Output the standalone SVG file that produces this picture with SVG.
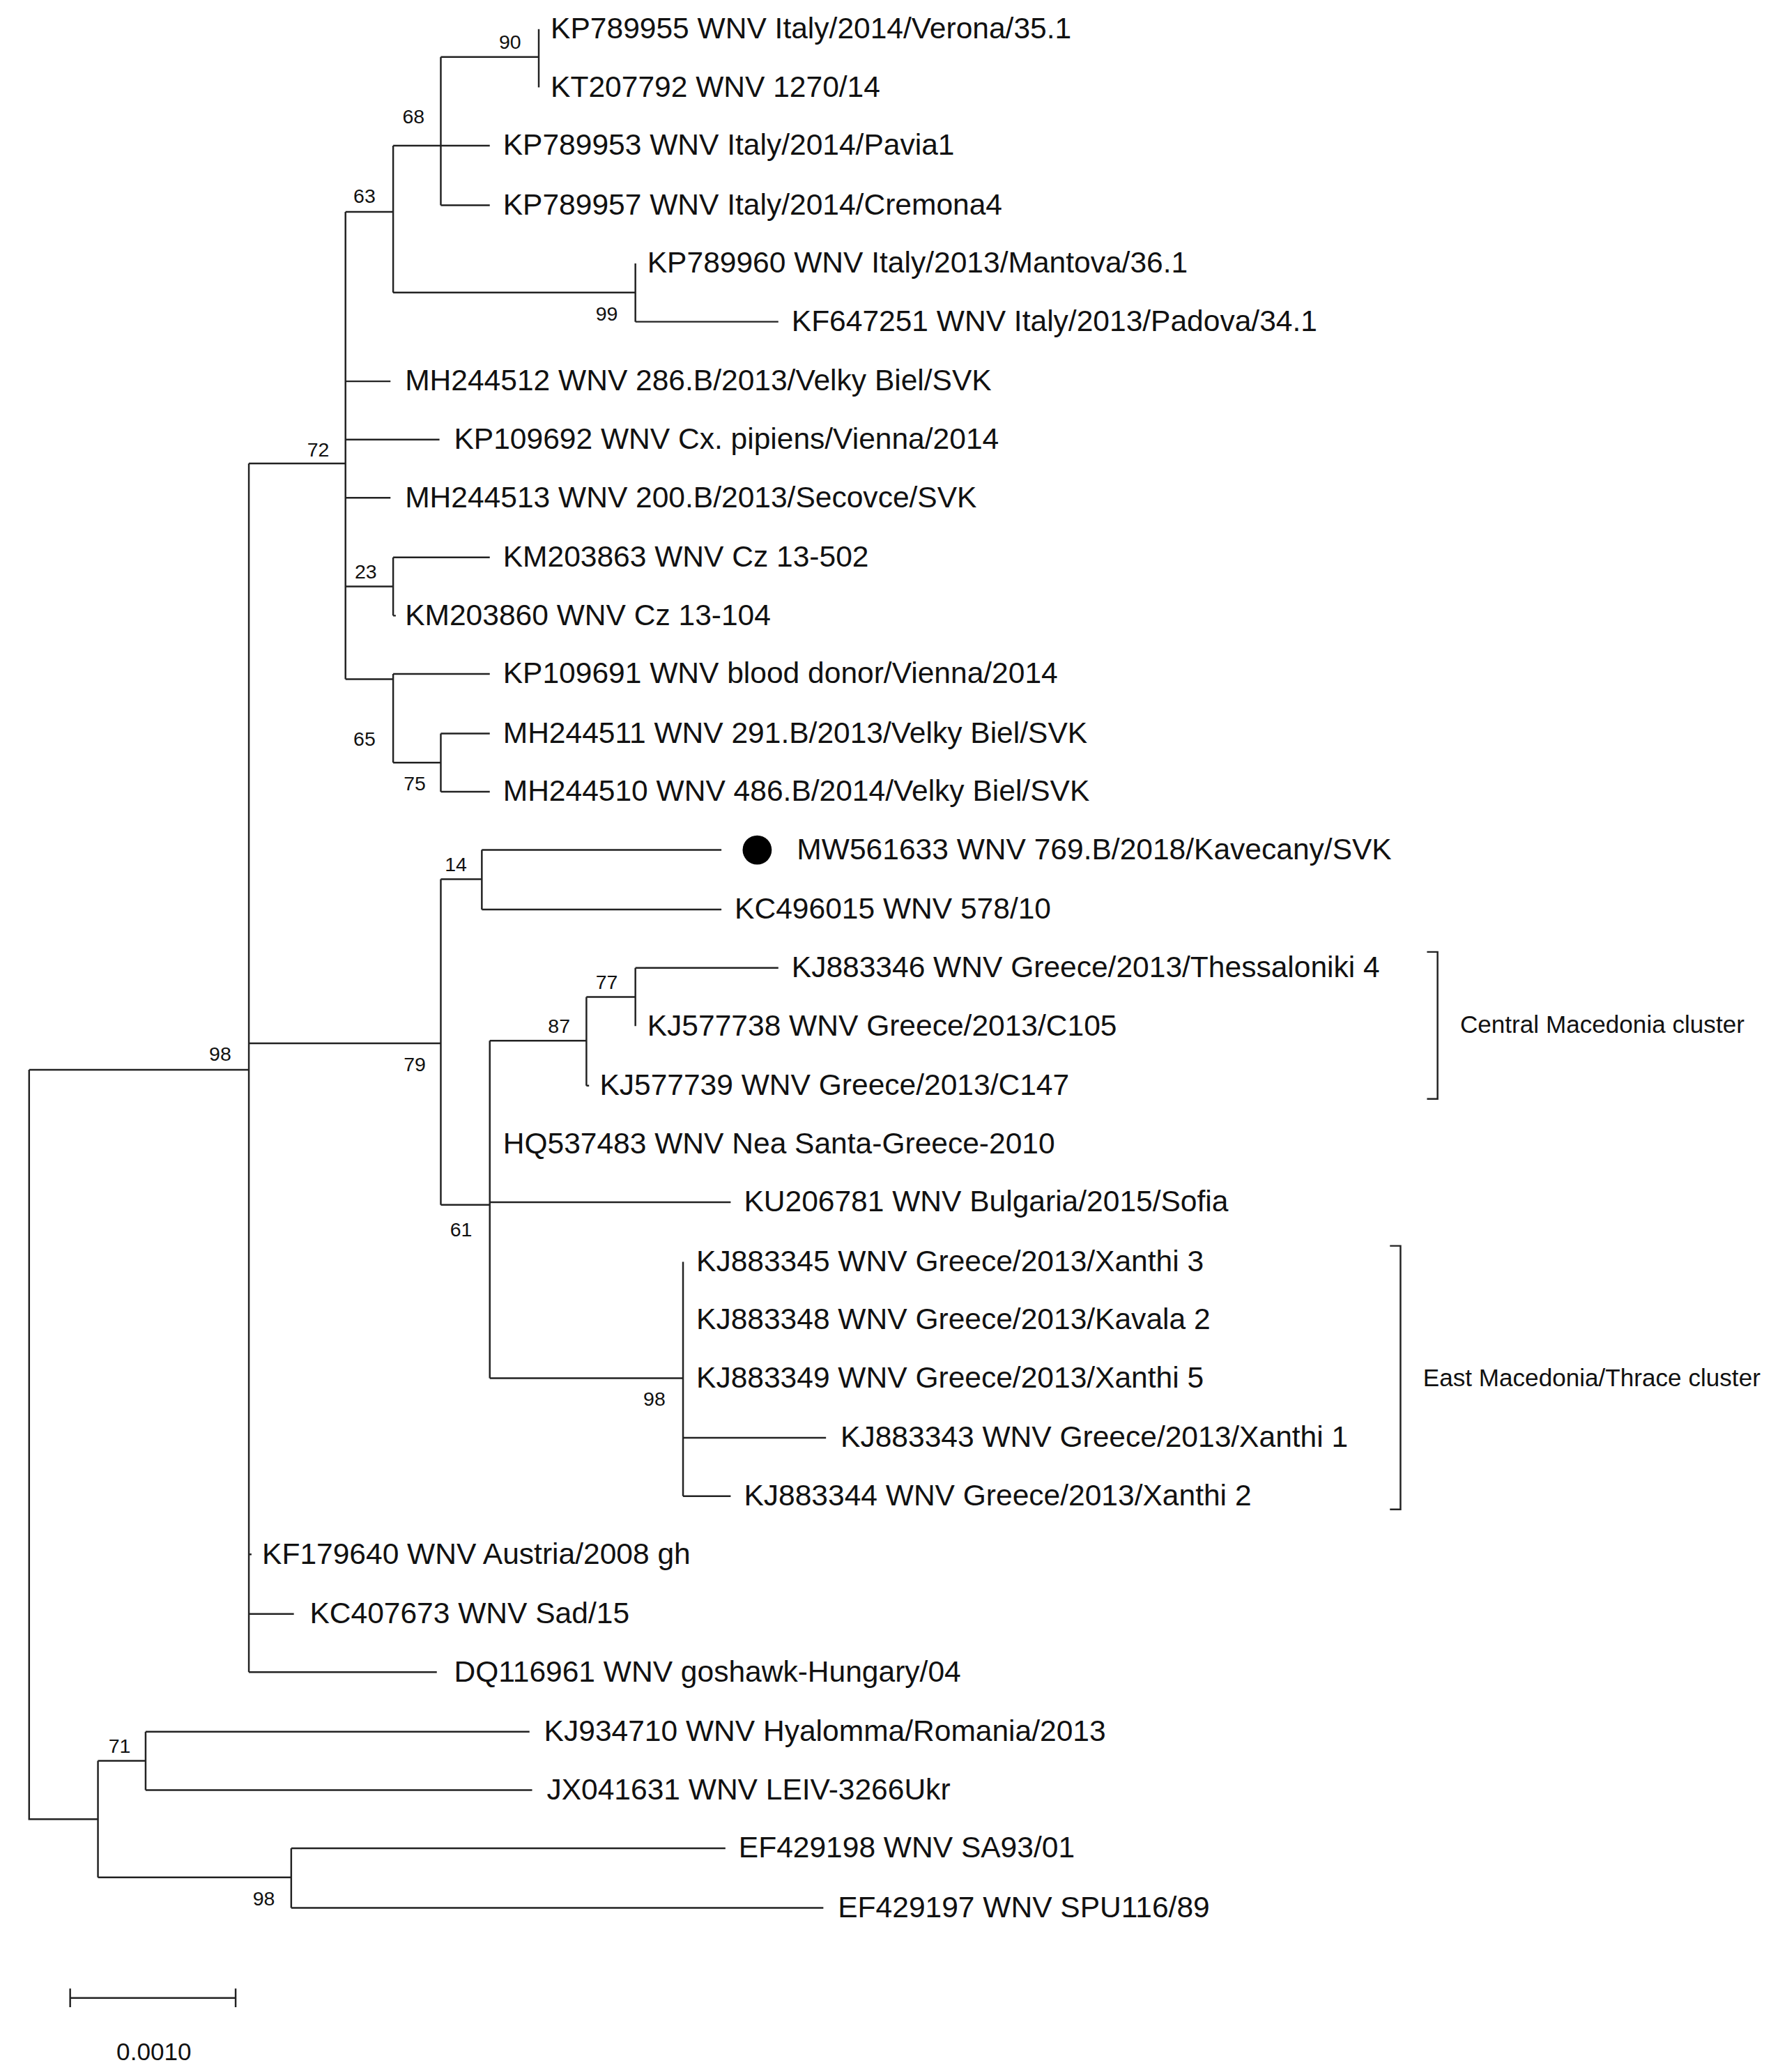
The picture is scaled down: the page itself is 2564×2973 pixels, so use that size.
<svg xmlns="http://www.w3.org/2000/svg" width="2564" height="2973" viewBox="0 0 2564 2973">
<style>
.l{font-family:"Liberation Sans",Arial,sans-serif;font-size:22.4px;fill:#111}
.b{font-family:"Liberation Sans",Arial,sans-serif;font-size:15px;fill:#111}
.c{font-family:"Liberation Sans",Arial,sans-serif;font-size:18.5px;fill:#111}
path{fill:none;stroke:#222;stroke-width:1.3}
</style>
<rect width="2564" height="2973" fill="#fff"/>
<g transform="scale(1.8993,1.8997)">
<g id="connectors">
<path d="M22,808V1374H74M22,808H188"/>
<path d="M188,350V1263M188,350H261M188,788H333M188,1174H190M188,1219H222M188,1263H330"/>
<path d="M261,160V513M261,160H297M261,288H295M261,332H332M261,376H295M261,443H297M261,513H297"/>
<path d="M297,110V221M297,110H333M297,221H480"/>
<path d="M333,43V155M333,43H407M333,110H370M333,155H370"/>
<path d="M407,22V66"/>
<path d="M480,199V243M480,243H588"/>
<path d="M297,421V465M297,421H370M297,465H299"/>
<path d="M297,509V576M297,509H370M297,576H333"/>
<path d="M333,554V598M333,554H370M333,598H370"/>
<path d="M333,664V910M333,664H364M333,910H370"/>
<path d="M364,642V687M364,642H545M364,687H545"/>
<path d="M370,786V1041M370,786H443M370,908H552M370,1041H516"/>
<path d="M443,753V820M443,753H480M443,820H445"/>
<path d="M480,731V775M480,731H588"/>
<path d="M516,953V1130M516,1086H624M516,1130H552"/>
<path d="M74,1330V1418M74,1330H110M74,1418H220"/>
<path d="M110,1308V1352M110,1308H400M110,1352H402"/>
<path d="M220,1396V1441M220,1396H548M220,1441H622"/>
<path d="M1078,719H1086V830H1078M1050,941H1058V1140H1050"/>
<path d="M53,1509H178M53,1502V1516M178,1502V1516"/>
</g>
<g id="leaves">
<text class="l" x="416" y="29">KP789955 WNV Italy/2014/Verona/35.1</text>
<text class="l" x="416" y="73">KT207792 WNV 1270/14</text>
<text class="l" x="380" y="117">KP789953 WNV Italy/2014/Pavia1</text>
<text class="l" x="380" y="162">KP789957 WNV Italy/2014/Cremona4</text>
<text class="l" x="489" y="206">KP789960 WNV Italy/2013/Mantova/36.1</text>
<text class="l" x="598" y="250">KF647251 WNV Italy/2013/Padova/34.1</text>
<text class="l" x="306" y="295">MH244512 WNV 286.B/2013/Velky Biel/SVK</text>
<text class="l" x="343" y="339">KP109692 WNV Cx. pipiens/Vienna/2014</text>
<text class="l" x="306" y="383">MH244513 WNV 200.B/2013/Secovce/SVK</text>
<text class="l" x="380" y="428">KM203863 WNV Cz 13-502</text>
<text class="l" x="306" y="472">KM203860 WNV Cz 13-104</text>
<text class="l" x="380" y="516">KP109691 WNV blood donor/Vienna/2014</text>
<text class="l" x="380" y="561">MH244511 WNV 291.B/2013/Velky Biel/SVK</text>
<text class="l" x="380" y="605">MH244510 WNV 486.B/2014/Velky Biel/SVK</text>
<circle cx="572" cy="642" r="11" fill="#000"/>
<text class="l" x="602" y="649">MW561633 WNV 769.B/2018/Kavecany/SVK</text>
<text class="l" x="555" y="694">KC496015 WNV 578/10</text>
<text class="l" x="598" y="738">KJ883346 WNV Greece/2013/Thessaloniki 4</text>
<text class="l" x="489" y="782">KJ577738 WNV Greece/2013/C105</text>
<text class="l" x="453" y="827">KJ577739 WNV Greece/2013/C147</text>
<text class="l" x="380" y="871">HQ537483 WNV Nea Santa-Greece-2010</text>
<text class="l" x="562" y="915">KU206781 WNV Bulgaria/2015/Sofia</text>
<text class="l" x="526" y="960">KJ883345 WNV Greece/2013/Xanthi 3</text>
<text class="l" x="526" y="1004">KJ883348 WNV Greece/2013/Kavala 2</text>
<text class="l" x="526" y="1048">KJ883349 WNV Greece/2013/Xanthi 5</text>
<text class="l" x="635" y="1093">KJ883343 WNV Greece/2013/Xanthi 1</text>
<text class="l" x="562" y="1137">KJ883344 WNV Greece/2013/Xanthi 2</text>
<text class="l" x="198" y="1181">KF179640 WNV Austria/2008 gh</text>
<text class="l" x="234" y="1226">KC407673 WNV Sad/15</text>
<text class="l" x="343" y="1270">DQ116961 WNV goshawk-Hungary/04</text>
<text class="l" x="411" y="1315">KJ934710 WNV Hyalomma/Romania/2013</text>
<text class="l" x="413" y="1359">JX041631 WNV LEIV-3266Ukr</text>
<text class="l" x="558" y="1403">EF429198 WNV SA93/01</text>
<text class="l" x="633" y="1448">EF429197 WNV SPU116/89</text>
</g>
<g id="support">
<text class="b" x="377" y="37">90</text>
<text class="b" x="304" y="93">68</text>
<text class="b" x="267" y="153">63</text>
<text class="b" x="450" y="242">99</text>
<text class="b" x="232" y="345">72</text>
<text class="b" x="268" y="437">23</text>
<text class="b" x="267" y="563">65</text>
<text class="b" x="305" y="597">75</text>
<text class="b" x="336" y="658">14</text>
<text class="b" x="450" y="747">77</text>
<text class="b" x="414" y="780">87</text>
<text class="b" x="158" y="801">98</text>
<text class="b" x="305" y="809">79</text>
<text class="b" x="340" y="934">61</text>
<text class="b" x="486" y="1062">98</text>
<text class="b" x="82" y="1324">71</text>
<text class="b" x="191" y="1439">98</text>
</g>
<g id="clusters">
<text class="c" x="1103" y="780">Central Macedonia cluster</text>
<text class="c" x="1075" y="1047">East Macedonia/Thrace cluster</text>
</g>
<text class="c" x="88" y="1556">0.0010</text>
</g>
</svg>
